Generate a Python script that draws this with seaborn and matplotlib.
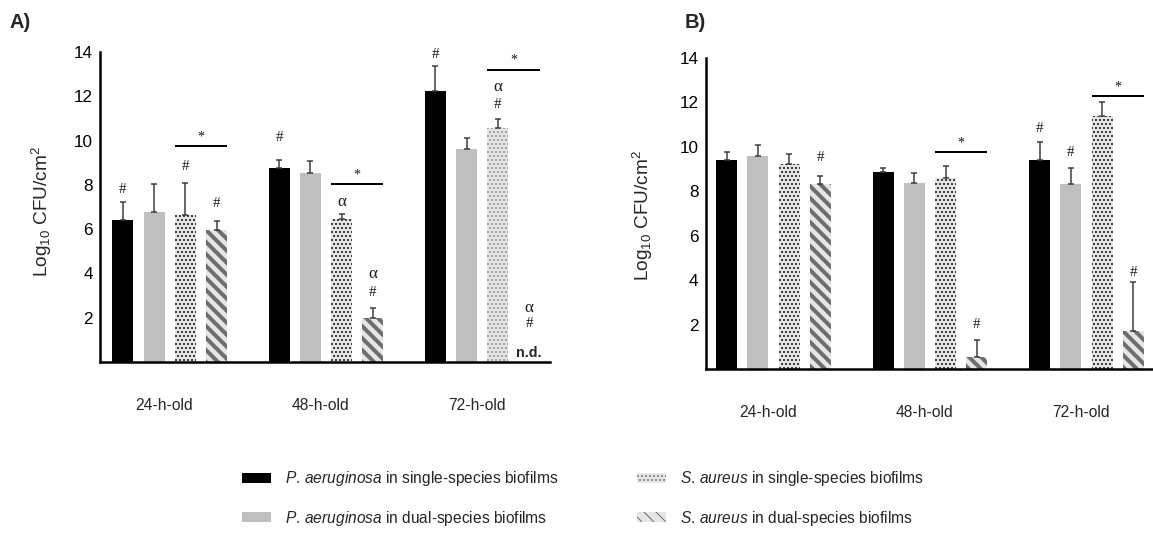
import numpy as np
import pandas as pd
import matplotlib
matplotlib.use("Agg")
import matplotlib.pyplot as plt
from matplotlib import font_manager
from matplotlib.patches import Patch
import seaborn as sns

# ---------------------------------------------------------------- data
ages = ["24-h-old", "48-h-old", "72-h-old"]
groups = ["Pa single", "Pa dual", "Sa single", "Sa dual"]
legend_labels = [
    r"$\it{P.\,aeruginosa}$ in single-species biofilms",
    r"$\it{P.\,aeruginosa}$ in dual-species biofilms",
    r"$\it{S.\,aureus}$ in single-species biofilms",
    r"$\it{S.\,aureus}$ in dual-species biofilms",
]

# Panel A: mean log10 CFU/cm2 and SD per biofilm age
a_pa_single = [6.42, 8.74, 12.24]
a_pa_single_sd = [0.81, 0.39, 1.13]
a_pa_dual = [6.77, 8.52, 9.61]
a_pa_dual_sd = [1.29, 0.56, 0.52]
a_sa_single = [6.66, 6.44, 10.55]
a_sa_single_sd = [1.44, 0.24, 0.44]
a_sa_dual = [5.95, 1.97, 0.0]      # 72 h: not detected
a_sa_dual_sd = [0.42, 0.45, 0.0]

# Panel B
b_pa_single = [9.41, 8.86, 9.40]
b_pa_single_sd = [0.38, 0.21, 0.83]
b_pa_dual = [9.59, 8.38, 8.33]
b_pa_dual_sd = [0.50, 0.46, 0.74]
b_sa_single = [9.23, 8.59, 11.38]
b_sa_single_sd = [0.47, 0.54, 0.62]
b_sa_dual = [8.33, 0.53, 1.71]
b_sa_dual_sd = [0.38, 0.79, 2.22]

# significance symbols: (age index, group index, symbol, y)
a_marks = [(0, 0, "#", 7.81), (0, 2, "#", 8.81), (0, 3, "#", 7.14),
           (1, 0, "#", 10.12), (1, 2, "α", 7.23), (1, 3, "α", 3.97), (1, 3, "#", 3.16),
           (2, 0, "#", 13.87), (2, 2, "α", 12.42), (2, 2, "#", 11.65),
           (2, 3, "α", 2.44), (2, 3, "#", 1.72)]
b_marks = [(0, 3, "#", 9.51), (1, 3, "#", 2.01), (2, 0, "#", 10.84),
           (2, 1, "#", 9.74), (2, 3, "#", 4.34)]
# bracket between S. aureus bars: (age index, line y, star y)
a_sig = [(0, 9.77, 10.16), (1, 8.03, 8.45), (2, 13.19, 13.64)]
b_sig = [(1, 9.78, 10.19), (2, 12.29, 12.68)]
# not-detected labels: (age index, group index, y)
a_nd = [(2, 3, 0.41)]
b_nd = []

# ---------------------------------------------------------------- style
sns.set_style("white")
names = {f.name for f in font_manager.fontManager.ttflist}
HAS_NARROW = "Liberation Sans Narrow" in names
NARROW = "Liberation Sans Narrow" if HAS_NARROW else "Liberation Sans"
NSCALE = 1.0 if HAS_NARROW else 0.95
SANS = "Liberation Sans"
SERIF = "Liberation Serif"
plt.rcParams["font.family"] = [SANS, "DejaVu Sans"]
plt.rcParams["mathtext.fontset"] = "custom"
plt.rcParams["mathtext.rm"] = SANS
plt.rcParams["mathtext.it"] = SANS + ":italic"
plt.rcParams["mathtext.default"] = "regular"

fills = {"Pa single": "#000000", "Pa dual": "#bfbfbf",
         "Sa single": "#e6e6e6", "Sa dual": "#e6e6e6"}
STRIPE = "#6e6e6e"
ERR = "#3a3a3a"

W, H = 1153, 538
fig = plt.figure(figsize=(W / 72, H / 72), dpi=72)


def style_bar(bar, group_idx, dot_color):
    bar.set_linewidth(0)
    if group_idx == 2:
        bar.set_hatch("...")
        bar.set_edgecolor(dot_color)
        if hasattr(bar, "set_hatch_linewidth"):
            bar.set_hatch_linewidth(1.4)
    elif group_idx == 3:
        bar.set_hatch("\\\\")
        bar.set_edgecolor(STRIPE)
        if hasattr(bar, "set_hatch_linewidth"):
            bar.set_hatch_linewidth(4.0)
    bar.set_linewidth(0)


def draw_panel(rect, xlim, means, sds, marks, sig, nd, dot_colors, label_xy):
    ax = fig.add_axes(rect)
    rows = []
    for g, vals in zip(groups, means):
        for a, v in zip(ages, vals):
            rows.append((a, g, v))
    df = pd.DataFrame(rows, columns=["age", "group", "value"])
    sns.barplot(data=df, x="age", y="value", hue="group", order=ages,
                hue_order=groups, palette=fills, saturation=1, width=0.8,
                gap=0.33, errorbar=None, legend=False, linewidth=0, ax=ax)

    centers, lefts, rights = [], [], []
    for i, cont in enumerate(ax.containers):
        c, l, r = [], [], []
        for j, bar in enumerate(cont):
            style_bar(bar, i, dot_colors[j])
            l.append(bar.get_x())
            r.append(bar.get_x() + bar.get_width())
            c.append(bar.get_x() + bar.get_width() / 2)
        centers.append(c)
        lefts.append(l)
        rights.append(r)

    # upper error bars only
    for i in range(4):
        xs = np.array(centers[i])
        m = np.array(means[i])
        s = np.array(sds[i])
        keep = s > 0
        ax.errorbar(xs[keep], m[keep], yerr=[np.zeros(keep.sum()), s[keep]],
                    fmt="none", ecolor=ERR, elinewidth=1.5, capsize=3,
                    capthick=1.5, zorder=3)

    for j, i, txt, y in marks:
        ax.text(centers[i][j], y, txt, ha="center", va="center",
                fontfamily=SERIF, fontsize=17 if txt == "α" else 15,
                color="#1a1a1a")
    for j, y_line, y_star in sig:
        x0, x1 = lefts[2][j], rights[3][j]
        ax.plot([x0, x1], [y_line, y_line], color="black", lw=2,
                solid_capstyle="butt", clip_on=False)
        ax.text((x0 + x1) / 2, y_star, "*", ha="center", va="center",
                fontfamily=SERIF, fontsize=14, color="#1a1a1a")
    for j, i, y in nd:
        ax.text(centers[i][j], y, "n.d.", ha="center", va="center",
                fontfamily=NARROW, fontweight="bold", fontsize=15 * NSCALE)

    ax.set_xlim(*xlim)
    ax.set_ylim(0, 14)
    ax.set_yticks(np.arange(2, 15, 2))
    ax.set_xticks(np.arange(len(ages)) - 0.035, ages)
    ax.set_xlabel("")
    ax.set_ylabel("Log$_{10}$ CFU/cm$^2$", fontsize=19, fontfamily=SANS)
    ax.yaxis.set_label_coords(*label_xy)
    for side in ("top", "right"):
        ax.spines[side].set_visible(False)
    for side in ("left", "bottom"):
        ax.spines[side].set_linewidth(2.5)
        ax.spines[side].set_color("black")
    ax.tick_params(axis="y", direction="out", length=5, width=2,
                   labelsize=18 * NSCALE, pad=2, colors="black")
    ax.tick_params(axis="x", length=0, pad=36, labelsize=16.5 * NSCALE)
    for t in ax.get_yticklabels() + ax.get_xticklabels():
        t.set_fontfamily(NARROW)
    return ax


def px_rect(left, right, top, bottom):
    return [left / W, 1 - bottom / H, (right - left) / W, (bottom - top) / H]


draw_panel(px_rect(100, 550, 52, 362), (-0.447, 2.434),
           [a_pa_single, a_pa_dual, a_sa_single, a_sa_dual],
           [a_pa_single_sd, a_pa_dual_sd, a_sa_single_sd, a_sa_dual_sd],
           a_marks, a_sig, a_nd, ["#262626", "#262626", "#9c9c9c"],
           (-0.102, 0.484))
draw_panel(px_rect(705.6, 1153, 58, 369), (-0.434, 2.425),
           [b_pa_single, b_pa_dual, b_sa_single, b_sa_dual],
           [b_pa_single_sd, b_pa_dual_sd, b_sa_single_sd, b_sa_dual_sd],
           b_marks, b_sig, b_nd, ["#262626", "#262626", "#262626"],
           (-0.113, 0.495))

fig.text(10 / W, 1 - 23 / H, "A)", ha="left", va="center",
         fontsize=20, fontweight="bold", fontfamily=SANS)
fig.text(685 / W, 1 - 22 / H, "B)", ha="left", va="center",
         fontsize=20, fontweight="bold", fontfamily=SANS)

# legend
handles = []
for i, g in enumerate(groups):
    p = Patch(facecolor=fills[g], linewidth=0)
    style_bar(p, i, "#6a6a6a")
    handles.append(p)
fs = 15.5
fig.legend(handles, legend_labels, ncol=2, loc="center left",
           bbox_to_anchor=(242 / W, 1 - 498.5 / H), frameon=False,
           fontsize=fs, handlelength=29 / fs, handleheight=10 / fs,
           handletextpad=14 / fs, columnspacing=79 / fs, labelspacing=1.3,
           borderpad=0, borderaxespad=0)

fig.savefig("out.png", dpi=72)
